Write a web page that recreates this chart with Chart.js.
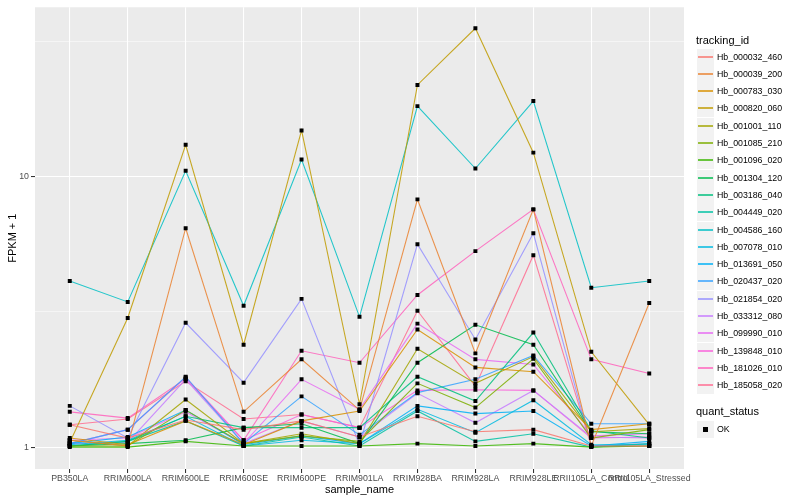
<!DOCTYPE html>
<html>
<head>
<meta charset="utf-8">
<script src="https://cdn.jsdelivr.net/npm/chart.js@4/dist/chart.umd.min.js"></script>
<style>
  body { margin: 0; background: #fff; font-family: "Liberation Sans", Arial, sans-serif; }
  #wrap { position: relative; width: 800px; height: 500px; }
  #legend { position: absolute; left: 696px; top: 0; font-size: 8.8px; color: #000; }
  .ttl { position: absolute; left: 0; font-size: 11px; white-space: nowrap; }
  .item { position: absolute; left: 1px; height: 17px; width: 100px; }
  .key { position: absolute; left: 0; top: 0; width: 17px; height: 17px; background: #F2F2F2; }
  .key i { position: absolute; left: 1px; right: 1px; top: 7px; height: 2px; opacity: 0.75; }
  .key b { position: absolute; left: 6px; top: 6px; width: 5px; height: 5px; background: #000; }
  .lbl { position: absolute; left: 20px; top: 2.5px; white-space: nowrap; }
</style>
</head>
<body>
<div id="wrap">
  <canvas id="chart" width="800" height="500"></canvas>
  <div id="legend"></div>
</div>
<script>
// categories
const samples = ['PB350LA', 'RRIM600LA', 'RRIM600LE', 'RRIM600SE', 'RRIM600PE', 'RRIM901LA',
  'RRIM928BA', 'RRIM928LA', 'RRIM928LE', 'RRII105LA_Control', 'RRII105LA_Stressed'];

// FPKM + 1 per tracking id
const hb000032_460 = [1.21, 1.08, 1.26, 1.16, 1.25, 1.09, 1.30, 1.14, 1.16, 1.01, 1.01];
const hb000039_200 = [1.06, 1.01, 6.44, 1.35, 2.11, 1.37, 8.23, 2.22, 7.56, 1.01, 3.41];
const hb000783_030 = [1.08, 1.02, 1.25, 1.02, 1.25, 1.36, 2.72, 1.97, 1.90, 1.16, 1.22];
const hb000820_060 = [1.04, 3.00, 13.1, 2.39, 14.8, 1.44, 21.8, 35.3, 12.25, 2.25, 1.21];
const hb001001_110 = [1.06, 1.01, 1.50, 1.03, 1.12, 1.03, 2.31, 1.72, 2.16, 1.14, 1.17];
const hb001085_210 = [1.01, 1.01, 1.37, 1.03, 1.10, 1.05, 1.72, 1.40, 2.12, 1.08, 1.16];
const hb001096_020 = [1.00, 1.00, 1.05, 1.01, 1.01, 1.01, 1.03, 1.01, 1.03, 1.00, 1.01];
const hb001304_120 = [1.01, 1.03, 1.06, 1.18, 1.22, 1.03, 2.05, 2.83, 2.39, 1.14, 1.12];
const hb003186_040 = [1.01, 1.05, 1.30, 1.18, 1.18, 1.18, 1.82, 1.48, 2.65, 1.15, 1.08];
const hb004449_020 = [1.01, 1.05, 1.25, 1.01, 1.09, 1.01, 1.36, 1.05, 1.12, 1.00, 1.03];
const hb004586_160 = [4.11, 3.44, 10.5, 3.33, 11.55, 3.03, 18.2, 10.7, 19.0, 3.88, 4.11];
const hb007078_010 = [1.02, 1.06, 1.30, 1.01, 1.06, 1.03, 1.38, 1.13, 1.49, 1.02, 1.02];
const hb013691_050 = [1.03, 1.09, 1.37, 1.02, 1.10, 1.03, 1.42, 1.33, 1.36, 1.01, 1.05];
const hb020437_020 = [1.03, 1.16, 1.82, 1.03, 1.54, 1.11, 1.59, 1.78, 2.18, 1.22, 1.22];
const hb021854_020 = [1.42, 1.08, 2.88, 1.73, 3.53, 1.02, 5.62, 2.50, 6.17, 1.01, 1.03];
const hb033312_080 = [1.03, 1.04, 1.78, 1.03, 1.25, 1.09, 1.58, 1.23, 1.62, 1.09, 1.08];
const hb099990_010 = [1.06, 1.08, 1.35, 1.03, 1.78, 1.38, 2.86, 2.11, 2.02, 1.10, 1.12];
const hb139848_010 = [1.03, 1.16, 1.81, 1.06, 1.32, 1.18, 1.62, 1.63, 1.62, 1.08, 1.09];
const hb181026_010 = [1.35, 1.28, 1.79, 1.06, 2.27, 2.05, 3.65, 5.30, 7.56, 2.11, 1.87];
const hb185058_020 = [1.21, 1.27, 1.75, 1.27, 1.32, 1.18, 3.19, 1.68, 5.12, 1.01, 1.01];

const trackingIds = ['Hb_000032_460', 'Hb_000039_200', 'Hb_000783_030', 'Hb_000820_060', 'Hb_001001_110',
  'Hb_001085_210', 'Hb_001096_020', 'Hb_001304_120', 'Hb_003186_040', 'Hb_004449_020',
  'Hb_004586_160', 'Hb_007078_010', 'Hb_013691_050', 'Hb_020437_020', 'Hb_021854_020',
  'Hb_033312_080', 'Hb_099990_010', 'Hb_139848_010', 'Hb_181026_010', 'Hb_185058_020'];
const seriesValues = [hb000032_460, hb000039_200, hb000783_030, hb000820_060, hb001001_110,
  hb001085_210, hb001096_020, hb001304_120, hb003186_040, hb004449_020,
  hb004586_160, hb007078_010, hb013691_050, hb020437_020, hb021854_020,
  hb033312_080, hb099990_010, hb139848_010, hb181026_010, hb185058_020];
const quantStatus = ['OK'];

// y ticks: majors labelled, minors (geometric midpoints) unlabelled
const yTickValues = [1, 3.1623, 10, 31.623];
const yTickLabels = ['1', '', '10', ''];

// ggplot hue palette, 20 levels
const hueColors = ['#F8766D', '#EA8331', '#D89000', '#C09B00', '#A3A500', '#7CAE00', '#39B600', '#00BB4E',
  '#00BF7D', '#00C1A3', '#00BFC4', '#00BAE0', '#00B0F6', '#35A2FF', '#9590FF', '#C77CFF',
  '#E76BF3', '#FA62DB', '#FF62BC', '#FF6C91'];
const alpha = hex => hex + 'D9';

const datasets = seriesValues.map((vals, k) => ({
  label: trackingIds[k],
  data: vals.map((v, i) => ({ x: i, y: v })),
  borderColor: alpha(hueColors[k]),
  borderWidth: 1.1,
  pointRadius: 0,
  tension: 0,
  fill: false,
  showLine: true,
  order: 1
}));
// points on top of every line
datasets.push({
  label: quantStatus[0],
  data: seriesValues.flatMap(vals => vals.map((v, i) => ({ x: i, y: v }))),
  showLine: false,
  pointStyle: 'rect',
  pointRadius: 2.8,
  backgroundColor: '#000',
  borderWidth: 0,
  order: 0
});

const panelBg = {
  id: 'panelBg',
  beforeDraw(chart) {
    const { ctx, chartArea: a } = chart;
    ctx.save();
    ctx.fillStyle = '#EBEBEB';
    ctx.fillRect(a.left, a.top, a.right - a.left, a.bottom - a.top);
    ctx.restore();
  }
};

const isMajor = v => v === 1 || v === 10;

new Chart(document.getElementById('chart'), {
  type: 'scatter',
  data: { datasets },
  plugins: [panelBg],
  options: {
    responsive: false,
    animation: false,
    layout: { padding: { top: 5, right: 116, left: 0, bottom: 0 } },
    plugins: { legend: { display: false }, tooltip: { enabled: false } },
    scales: {
      x: {
        type: 'linear', min: -0.6, max: 10.6,
        afterBuildTicks: s => { s.ticks = samples.map((_, i) => ({ value: i })); },
        afterFit: s => { s.height = 31; },
        border: { display: false },
        grid: { color: '#FFFFFF', lineWidth: 1.07, tickLength: 4, tickColor: '#333333' },
        ticks: {
          autoSkip: false, maxRotation: 0, minRotation: 0, padding: 0,
          color: '#4D4D4D', font: { family: 'Liberation Sans', size: 8.8 },
          callback: v => samples[v]
        },
        title: { display: true, text: 'sample_name', color: '#000', padding: { top: 0, bottom: 3 },
          font: { family: 'Liberation Sans', size: 11 } }
      },
      y: {
        type: 'logarithmic', min: 0.83, max: 42.2,
        afterBuildTicks: s => { s.ticks = yTickValues.map(v => ({ value: v })); },
        afterFit: s => { s.width = 35; },
        border: { display: false },
        grid: {
          color: '#FFFFFF',
          lineWidth: c => (isMajor(c.tick.value) ? 1.07 : 0.53),
          tickLength: 4,
          tickColor: c => (isMajor(c.tick.value) ? '#333333' : 'rgba(0,0,0,0)')
        },
        ticks: {
          autoSkip: false, padding: 2,
          color: '#4D4D4D', font: { family: 'Liberation Sans', size: 8.8 },
          callback: (v, i) => yTickLabels[i]
        },
        title: { display: true, text: 'FPKM + 1', color: '#000', padding: { top: 6, bottom: 0 },
          font: { family: 'Liberation Sans', size: 11 } }
      }
    }
  }
});

// legend, ggplot style
const legend = document.getElementById('legend');
const rowH = 17.3;
let html = '<div class="ttl" style="top:34px">tracking_id</div>';
trackingIds.forEach((id, k) => {
  const top = Math.round(48.5 + k * rowH);
  html += `<div class="item" style="top:${top}px"><span class="key"><i style="background:${hueColors[k]}"></i></span><span class="lbl">${id}</span></div>`;
});
html += '<div class="ttl" style="top:405px">quant_status</div>';
html += `<div class="item" style="top:421px"><span class="key"><b></b></span><span class="lbl">${quantStatus[0]}</span></div>`;
legend.innerHTML = html;
</script>
</body>
</html>
